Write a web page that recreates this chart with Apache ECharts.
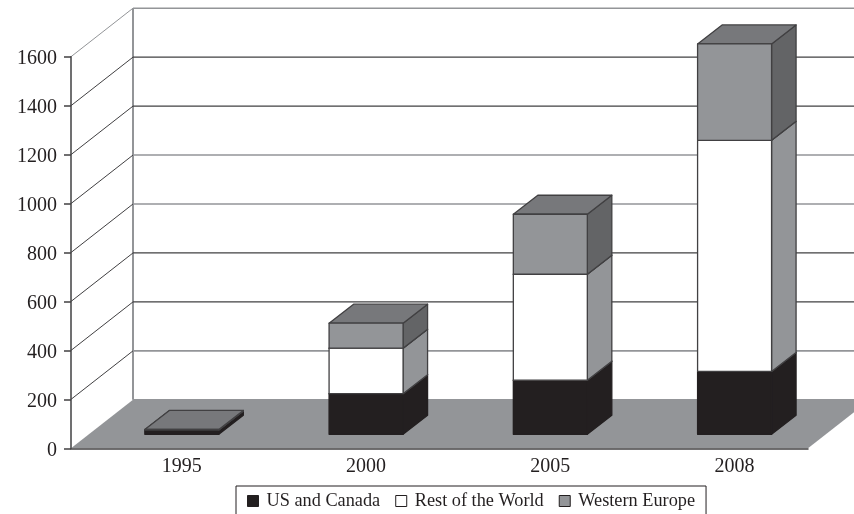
<!DOCTYPE html>
<html>
<head>
<meta charset="utf-8">
<style>html,body{margin:0;padding:0;background:#fff}#chart{width:854px;height:514px}</style>
<script src="https://cdn.jsdelivr.net/npm/echarts@6/dist/echarts.min.js"></script>
</head>
<body>
<div id="chart"></div>
<script>
// Stacked column values per year
const years = ['1995', '2000', '2005', '2008'];
const usCanada = [18, 166, 221, 257];
const restOfWorld = [1, 186, 433, 944];
const westernEurope = [1, 102, 245, 394];
const yTicks = [0, 200, 400, 600, 800, 1000, 1200, 1400, 1600];

// Oblique projection: how far the back wall and the columns are pushed into the scene
const WALL_DX = 62, WALL_DY = 48.5;
const COL_DX = 18.7, COL_DY = 14;
const DEPTH_DX = 24.5, DEPTH_DY = 19;
const COL_RATIO = 0.4016;

const INK = '#231f20', EDGE = '#414042', GREY = '#939598';
const TOP_FACE = '#77787b', DARK_SIDE = '#636466';
const FONT = '"Liberation Serif","Times New Roman",serif';

const poly = (points, fill, stroke, lineWidth) => ({
  type: 'polygon', silent: true,
  shape: { points },
  style: { fill, stroke: stroke || fill, lineWidth: lineWidth === undefined ? 1.3 : lineWidth, lineJoin: 'round' }
});
const seg = (a, b, stroke, lineWidth) => ({
  type: 'line', silent: true,
  shape: { x1: a[0], y1: a[1], x2: b[0], y2: b[1] },
  style: { stroke, lineWidth, fill: null }
});

// Grey gridlines sit at these values; the others are dark
const greyLines = [0, 200, 800, 1000, 1600];

function renderWall(params, api) {
  const cs = params.coordSys;
  const val = api.value(1);
  const y = api.coord([0, val])[1];
  const left = cs.x, right = cs.x + cs.width;
  const grey = greyLines.includes(val);
  const kids = [];
  if (val === 0) {
    kids.push(poly([[left, y], [right, y], [right + WALL_DX, y - WALL_DY], [left + WALL_DX, y - WALL_DY]], GREY, GREY, 0));
    kids.push(seg([left + WALL_DX, y - WALL_DY], [left + WALL_DX, cs.y - WALL_DY], GREY, 2));
  } else {
    kids.push(seg([left, y], [left + WALL_DX, y - WALL_DY], val === 1600 ? GREY : EDGE, 1));
  }
  kids.push(seg([left + WALL_DX, y - WALL_DY], [right + WALL_DX, y - WALL_DY], grey ? GREY : EDGE, grey ? 1.6 : 1.2));
  return { type: 'group', children: kids };
}

function columnRenderer(frontFill, sideFill, stroke) {
  return function (params, api) {
    const cat = api.value(0);
    const c = api.coord([cat, api.value(2)]);
    const b = api.coord([cat, api.value(1)]);
    const w = api.size([1, 0])[0] * COL_RATIO;
    const xl = c[0] + COL_DX - w / 2, xr = xl + w;
    const yt = c[1] - COL_DY, yb = b[1] - COL_DY;
    const dx = DEPTH_DX, dy = DEPTH_DY;
    return {
      type: 'group',
      children: [
        poly([[xr, yt], [xr + dx, yt - dy], [xr + dx, yb - dy], [xr, yb]], sideFill, stroke),
        poly([[xl, yt], [xl + dx, yt - dy], [xr + dx, yt - dy], [xr, yt]], TOP_FACE, EDGE),
        poly([[xl, yt], [xr, yt], [xr, yb], [xl, yb]], frontFill, stroke)
      ]
    };
  };
}

// Cumulative [category, base, top] rows for one stack layer
function stackRows(layers, index) {
  return years.map((_, i) => {
    let base = 0;
    for (let k = 0; k < index; k++) base += layers[k][i];
    return [i, base, base + layers[index][i]];
  });
}
const layers = [usCanada, restOfWorld, westernEurope];

const chart = echarts.init(document.getElementById('chart'), null, { renderer: 'canvas' });
chart.setOption({
  animation: false,
  backgroundColor: '#fff',
  textStyle: { fontFamily: FONT },
  grid: { left: 71, top: 56.7, width: 737, height: 391.6, containLabel: false },
  xAxis: {
    type: 'category', data: years, z: 6,
    axisTick: { show: false },
    axisLine: { lineStyle: { color: EDGE, width: 1.5 } },
    axisLabel: { color: INK, fontFamily: FONT, fontSize: 20, margin: 8, padding: [0, 0, 0, 37] }
  },
  yAxis: {
    type: 'value', min: 0, max: 1600, interval: 200, z: 6,
    splitLine: { show: false },
    axisLine: { show: true, lineStyle: { color: EDGE, width: 1.5 } },
    axisTick: { show: true, length: 7, lineStyle: { color: EDGE, width: 1.5 } },
    axisLabel: {
      margin: 14,
      formatter: v => '{n|' + v + '}',
      // Taller line box with bottom-aligned digits sets the labels slightly below the tick
      rich: { n: { color: INK, fontFamily: FONT, fontSize: 20, height: 20, lineHeight: 25, verticalAlign: 'bottom' } }
    }
  },
  legend: {
    left: 236, top: 486,
    padding: [6, 11, 30, 11],
    borderColor: INK, borderWidth: 1, borderRadius: 0,
    backgroundColor: '#fff',
    itemWidth: 11, itemHeight: 11, itemGap: 15,
    textStyle: { color: INK, fontFamily: FONT, fontSize: 18.3, padding: [0, 0, 0, 3] },
    data: [
      { name: 'US and Canada', icon: 'rect', itemStyle: { color: INK, borderColor: INK, borderWidth: 1 } },
      { name: 'Rest of the World', icon: 'rect', itemStyle: { color: '#fff', borderColor: INK, borderWidth: 1 } },
      { name: 'Western Europe', icon: 'rect', itemStyle: { color: GREY, borderColor: INK, borderWidth: 1 } }
    ]
  },
  series: [
    {
      type: 'custom', name: 'wall', z: 1, clip: false, silent: true,
      renderItem: renderWall,
      data: yTicks.map(v => [0, v]),
      encode: { x: 0, y: 1 }
    },
    {
      type: 'custom', name: 'US and Canada', z: 3, clip: false,
      itemStyle: { color: INK },
      renderItem: columnRenderer(INK, INK, INK),
      data: stackRows(layers, 0), encode: { x: 0, y: [1, 2] }
    },
    {
      type: 'custom', name: 'Rest of the World', z: 4, clip: false,
      itemStyle: { color: '#fff' },
      renderItem: columnRenderer('#fff', GREY, EDGE),
      data: stackRows(layers, 1), encode: { x: 0, y: [1, 2] }
    },
    {
      type: 'custom', name: 'Western Europe', z: 5, clip: false,
      itemStyle: { color: GREY },
      renderItem: columnRenderer(GREY, DARK_SIDE, EDGE),
      data: stackRows(layers, 2), encode: { x: 0, y: [1, 2] }
    }
  ]
});
</script>
</body>
</html>
